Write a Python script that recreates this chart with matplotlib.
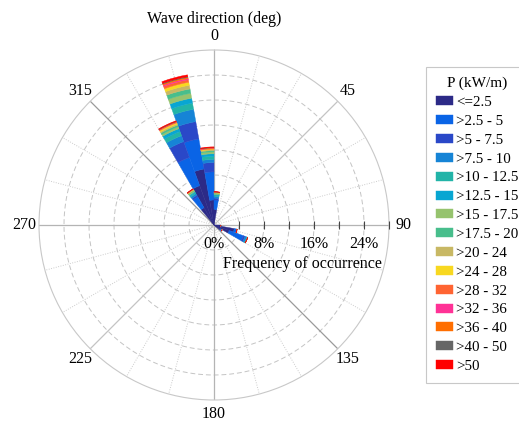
import numpy as np
import matplotlib
matplotlib.use('Agg')
from matplotlib import pyplot as plt

plt.rcParams['font.family'] = ['Liberation Serif', 'DejaVu Serif']

# wave power classes (kW/m) and their colours
power_classes = ['<=2.5', '>2.5 - 5', '>5 - 7.5', '>7.5 - 10', '>10 - 12.5', '>12.5 - 15',
                 '>15 - 17.5', '>17.5 - 20', '>20 - 24', '>24 - 28', '>28 - 32', '>32 - 36',
                 '>36 - 40', '>40 - 50', '>50']
class_colors = ['#2c2a87', '#0a64e6', '#2a48c8', '#1684d6', '#22b4a8', '#08a6d2',
                '#96c36e', '#48be8c', '#c8b864', '#f8d820', '#ff6432', '#ff3296',
                '#ff6e00', '#666666', '#ff0000']

# direction bins (start of 10 deg sector) and frequency of occurrence (%) per power class
direction_bins = [320, 330, 340, 350, 0, 90, 100, 110, 120]
freq_320 = [3.2, 2.0, 0.3, 0.3, 0.2, 0.15, 0.15, 0.1, 0.1, 0.05, 0.05, 0.02, 0.02, 0.02, 0.04]
freq_330 = [6.7, 4.8, 2.7, 1.0, 0.7, 0.5, 0.3, 0.3, 0.2, 0.2, 0.1, 0.05, 0.05, 0.05, 0.1]
freq_340 = [9.1, 4.9, 2.8, 2.0, 1.0, 0.8, 0.8, 0.7, 0.6, 0.5, 0.4, 0.2, 0.2, 0.1, 0.3]
freq_350 = [4.0, 4.5, 1.5, 0.5, 0.5, 0.4, 0.3, 0.2, 0.15, 0.1, 0.1, 0.05, 0.05, 0.05, 0.1]
freq_000 = [2.5, 1.5, 0.3, 0.3, 0.2, 0.1, 0.1, 0.1, 0.05, 0.05, 0.05, 0.02, 0.02, 0.01, 0.05]
freq_090 = [1.0, 0.1, 0, 0, 0, 0, 0, 0, 0, 0, 0, 0, 0, 0, 0]
freq_100 = [3.3, 0.4, 0.05, 0, 0, 0, 0, 0, 0, 0, 0, 0, 0, 0, 0]
freq_110 = [2.6, 2.4, 0.3, 0.3, 0.15, 0, 0, 0, 0, 0, 0, 0, 0, 0, 0]
freq_120 = [1.2, 0.3, 0, 0, 0, 0, 0, 0, 0, 0, 0, 0, 0, 0, 0]
freqs = np.array([freq_320, freq_330, freq_340, freq_350, freq_000,
                  freq_090, freq_100, freq_110, freq_120])

fig = plt.figure(figsize=(5.19, 4.23), dpi=100)
ax = fig.add_axes([39 / 519, 23 / 423, 350 / 519, 350 / 423], projection='polar')
ax.set_theta_zero_location('N')
ax.set_theta_direction(-1)
ax.set_ylim(0, 28)
ax.grid(False)
ax.set_xticks([])
ax.set_yticks([])
ax.spines['polar'].set_color('#c8c8c8')
ax.spines['polar'].set_linestyle((0, (1, 1)))
ax.spines['polar'].set_linewidth(0.8)

# rings every 4 %
th = np.linspace(0, 2 * np.pi, 361)
for r in range(4, 28, 4):
    ax.plot(th, np.full_like(th, r), color='#c4c4c4', lw=0.7, ls=(0, (5, 3)), zorder=1)

# spokes every 15 deg
for a in range(0, 360, 15):
    t = np.radians(a)
    if a % 90 == 0:
        ax.plot([t, t], [0, 28], color='#b4b4b4', lw=0.9, zorder=1)
    elif a in (135, 315):
        ax.plot([t, t], [0, 28], color='#9a9a9a', lw=0.9, zorder=1)
    elif a % 45 == 0:
        ax.plot([t, t], [0, 28], color='#c4c4c4', lw=0.9, zorder=1)
    else:
        ax.plot([t, t], [0, 28], color='#cccccc', lw=0.7, ls=(0, (1, 1.5)), zorder=1)

# stacked bars
theta = np.radians(np.array(direction_bins) + 5)
bottom = np.zeros(len(direction_bins))
for k, (label, color) in enumerate(zip(power_classes, class_colors)):
    ax.bar(theta, freqs[:, k], width=np.radians(10), bottom=bottom, color=color,
           edgecolor=color, linewidth=0.3, label=label, zorder=3)
    bottom += freqs[:, k]

# direction labels
for a in range(0, 360, 45):
    ax.text(np.radians(a), 30.3, str(a), ha='center', va='center', fontsize=11.5, clip_on=False)

# radial axis ticks and labels
for r in range(4, 29, 4):
    ax.plot(np.radians(90), r, marker='|', ms=6, mew=0.8, color='#444444', clip_on=False, zorder=4)
for r in (0, 8, 16, 24):
    ax.annotate(f'{r}%', xy=(np.radians(90), r), xytext=(0, -19), textcoords='offset pixels',
                ha='center', va='center', fontsize=11.5)

fig.text(222.7 / 519, 1 - 263.5 / 423, 'Frequency of occurrence', ha='left', va='center', fontsize=11.5)
fig.text(214 / 519, 1 - 19 / 423, 'Wave direction (deg)', ha='center', va='center', fontsize=11.5)

leg = fig.legend(loc='upper left', bbox_to_anchor=(426 / 519, 1 - 67 / 423), bbox_transform=fig.transFigure,
                 title='P (kW/m)', fontsize=10.8, title_fontsize=11, fancybox=False, framealpha=1,
                 edgecolor='#c8c8c8', borderaxespad=0, handlelength=1.13, handleheight=0.55,
                 handletextpad=0.25, labelspacing=0.39, borderpad=0.65)
leg.get_frame().set_linewidth(0.8)

fig.savefig('out.png', dpi=100)
